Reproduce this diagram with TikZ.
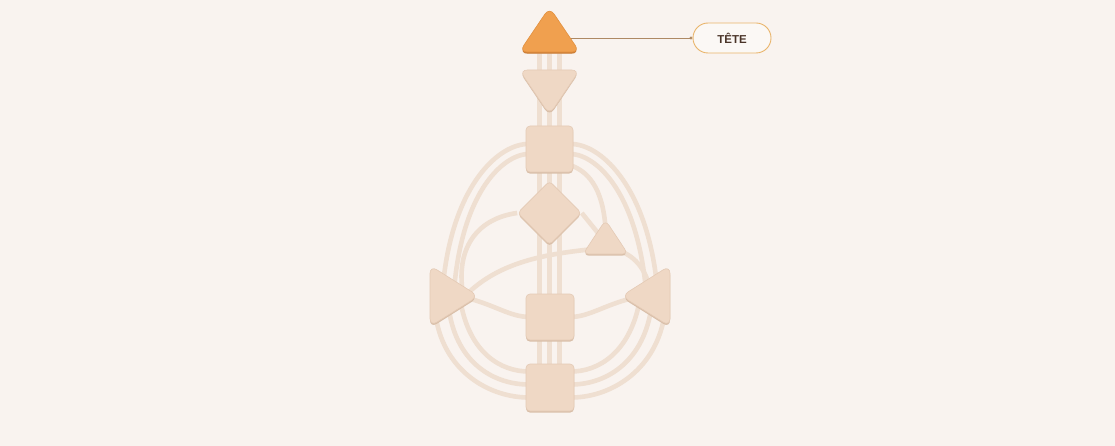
\documentclass[tikz,border=0pt]{standalone}
\usepackage{fontspec}
\setmainfont{Liberation Sans}
\usetikzlibrary{shapes.geometric,shadows,calc,arrows.meta}
\definecolor{bgc}{HTML}{F9F3EF}
\definecolor{chc}{HTML}{EFDFD1}
\definecolor{cfill}{HTML}{EFD8C5}
\definecolor{cline}{HTML}{E4CAB5}
\definecolor{cshadow}{HTML}{D9BFA9}
\definecolor{hfill}{HTML}{F0A04F}
\definecolor{hline}{HTML}{E2903F}
\definecolor{hshadow}{HTML}{CF8038}
\definecolor{lblline}{HTML}{AE8964}
\definecolor{pillline}{HTML}{E9B46A}
\definecolor{pillfill}{HTML}{FBF8F5}
\definecolor{txtc}{HTML}{4A3428}
\pgfdeclarelayer{back}
\pgfsetlayers{back,main}
\tikzset{
  ctr/.style={fill=cfill, draw=cline, line width=0.6pt, inner sep=0pt,
    drop shadow={shadow xshift=0pt, shadow yshift=-1.6pt, fill=cshadow, opacity=1}},
  hot/.style={fill=hfill, draw=hline,
    drop shadow={shadow xshift=0pt, shadow yshift=-1.6pt, fill=hshadow, opacity=1}},
  tri/.style={ctr, rounded corners=8pt},
  sq/.style={ctr, rectangle, rounded corners=4pt, minimum width=47pt, minimum height=46pt},
  dia/.style={ctr, diamond, aspect=1, rounded corners=4pt, minimum width=64pt, minimum height=64pt},
  ch/.style={draw=chc, line width=4.6pt},
  pill/.style={draw=pillline, fill=pillfill, line width=0.9pt, rounded corners=15pt,
    minimum width=78pt, minimum height=30pt, inner sep=0pt, text=txtc,
    font=\bfseries\fontsize{11.5}{13}\selectfont},
  lbl/.style={draw=lblline, line width=0.8pt, -{Circle[length=3pt,fill=pillline]}}
}
\begin{document}
\begin{tikzpicture}[x=1pt,y=-1pt]
\useasboundingbox (0,0) rectangle (1115,446);
% centres (triangles drawn as paths, named by their centre coordinates)
\path[tri, hot] (519.3,52) -- (549.5,7.3) -- (579.7,52) -- cycle;
\coordinate (head) at (549.5,38);
\path[tri] (519.3,70) -- (579.7,70) -- (549.5,114.7) -- cycle;
\coordinate (ajna) at (549.5,84);
\node[sq] (throat) at (549.5,149) {};
\node[dia] (G) at (549.5,213) {};
\path[tri, rounded corners=6pt] (583,254) -- (605.5,220) -- (628,254) -- cycle;
\coordinate (heart) at (606,243);
\path[tri] (430,265.5) -- (478.5,296) -- (430,326.5) -- cycle;
\coordinate (spleen) at (445,296);
\path[tri] (670,265.5) -- (621.5,296) -- (670,326.5) -- cycle;
\coordinate (solar) at (655,296);
\node[sq, minimum width=48pt] (sacral) at (550,317) {};
\node[sq, minimum width=48pt, minimum height=47pt] (root) at (550,387.5) {};
\node[pill] (label) at (732,38) {TÊTE};
\begin{pgfonlayer}{back}
\fill[bgc] (0,0) rectangle (1115,446);
% vertical channels
\foreach \d in {-10,0,10}
  \draw[ch] ($(head)+(\d,0)$) -- ($(root.center)+(\d-0.5,0)$);
% left upper arcs
\draw[ch] ($(throat.center)+(-23,-5)$) .. controls (495,146) and (452,190) .. ($(spleen)+(-2,-11)$);
\draw[ch] ($(throat.center)+(-23,5)$) .. controls (500,157) and (462,195) .. ($(spleen)+(9,-6)$);
\draw[ch] (G.west) .. controls (480,218) and (455,245) .. ($(spleen)+(18,-2)$);
\draw[ch] ($(heart)+(-12,6)$) .. controls (545,254) and (500,262) .. ($(spleen)+(22,-2)$);
\draw[ch] ($(spleen)+(22,2)$) .. controls (495,305) and (510,317) .. ($(sacral.center)+(-20,0)$);
% left lower arcs
\draw[ch] ($(spleen)+(-9,22)$) .. controls (445,372) and (490,398) .. ($(root.center)+(-20,10)$);
\draw[ch] ($(spleen)+(4,14)$) .. controls (457,364) and (495,385) .. ($(root.center)+(-20,-3)$);
\draw[ch] ($(spleen)+(16,8)$) .. controls (470,352) and (500,372) .. ($(root.center)+(-20,-16)$);
% right upper arcs
\draw[ch] ($(throat.center)+(23,-5)$) .. controls (604,146) and (647,190) .. ($(solar)+(2,-11)$);
\draw[ch] ($(throat.center)+(23,5)$) .. controls (599,157) and (637,195) .. ($(solar)+(-9,-6)$);
\draw[ch] ($(throat.center)+(23,17)$) .. controls (595,175) and (606,200) .. (heart);
\draw[ch] (G.east) -- (heart);
\draw[ch] ($(heart)+(10,6)$) .. controls (634,256) and (645,266) .. ($(solar)+(-4,-4)$);
\draw[ch] ($(solar)+(-22,2)$) .. controls (604,305) and (589,317) .. ($(sacral.center)+(20,0)$);
% right lower arcs
\draw[ch] ($(solar)+(9,22)$) .. controls (654,372) and (609,398) .. ($(root.center)+(20,10)$);
\draw[ch] ($(solar)+(-4,14)$) .. controls (642,364) and (604,385) .. ($(root.center)+(20,-3)$);
\draw[ch] ($(solar)+(-16,8)$) .. controls (629,352) and (599,372) .. ($(root.center)+(20,-16)$);
% label connector
\draw[lbl] (head) -- (label.west);
\end{pgfonlayer}
\end{tikzpicture}
\end{document}
